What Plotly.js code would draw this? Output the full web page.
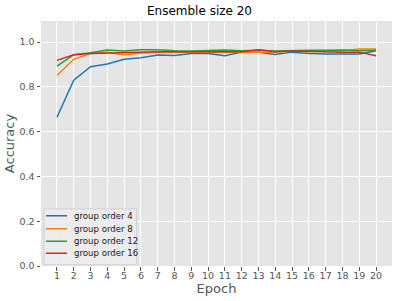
<!DOCTYPE html>
<html><head><meta charset="utf-8">
<script src="https://cdn.plot.ly/plotly-3.0.1.min.js"></script>
<style>html,body{margin:0;padding:0;background:#fff}#chart{width:399px;height:301px}</style>
</head><body><div id="chart"></div>
<script>
const epochs = [1,2,3,4,5,6,7,8,9,10,11,12,13,14,15,16,17,18,19,20];
const seriesNames = ["group order 4","group order 8","group order 12","group order 16"];
const order4  = [0.664,0.830,0.890,0.902,0.923,0.930,0.942,0.940,0.949,0.949,0.939,0.955,0.954,0.945,0.955,0.949,0.947,0.947,0.947,0.961];
const order8  = [0.851,0.923,0.949,0.954,0.942,0.951,0.955,0.955,0.955,0.955,0.955,0.955,0.957,0.955,0.960,0.957,0.960,0.961,0.969,0.969];
const order12 = [0.893,0.943,0.952,0.964,0.960,0.966,0.966,0.961,0.960,0.963,0.964,0.961,0.963,0.960,0.963,0.963,0.963,0.964,0.961,0.963];
const order16 = [0.918,0.943,0.949,0.952,0.955,0.955,0.957,0.957,0.954,0.954,0.955,0.957,0.966,0.957,0.960,0.957,0.955,0.954,0.955,0.939];
const yTicks = [0,0.2,0.4,0.6,0.8,1.0];
const yTickText = ["0.0","0.2","0.4","0.6","0.8","1.0"];
const colors = ["#1f77b4","#ff7f0e","#2ca02c","#d62728"];
const ys = [order4, order8, order12, order16];
const data = ys.map((y,i)=>({x:epochs,y:y,type:"scatter",mode:"lines",name:seriesNames[i],showlegend:false,line:{color:colors[i],width:1.5}}));

// legend drawn in paper coordinates (plot-area fractions)
const legRowY = [0.205,0.152,0.101,0.052];
const shapes = [{type:"rect",xref:"paper",yref:"paper",x0:0.0085,x1:0.272,y0:0.005,y1:0.233,
  fillcolor:"rgba(236,236,236,0.9)",line:{color:"#d0d0d0",width:1},layer:"above"}];
const annotations = [];
seriesNames.forEach((n,i)=>{
  shapes.push({type:"line",xref:"paper",yref:"paper",x0:0.014,x1:0.074,y0:legRowY[i],y1:legRowY[i],line:{color:colors[i],width:1.5},layer:"above"});
  annotations.push({xref:"paper",yref:"paper",x:0.088,y:legRowY[i],xanchor:"left",yanchor:"middle",text:n,showarrow:false,font:{size:8.6,color:"#1a1a1a",family:"DejaVu Sans"}});
});

const layout = {
  width:399,height:301,
  margin:{l:41,r:7,t:21,b:35},
  paper_bgcolor:"#fff",plot_bgcolor:"#E5E5E5",
  font:{family:"DejaVu Sans",color:"#555"},
  title:{text:"Ensemble size 20",font:{size:12,color:"#000"},x:0.5,xanchor:"center",y:0.963,yanchor:"middle"},
  xaxis:{range:[0.05,20.95],tickvals:epochs,ticktext:epochs.map(String),showgrid:true,gridcolor:"#fff",gridwidth:1,zeroline:false,
    ticks:"outside",ticklen:3.5,tickcolor:"#555",tickfont:{size:9.5,color:"#555"},ticklabelstandoff:-3,
    title:{text:"Epoch",font:{size:13,color:"#555"},standoff:0}},
  yaxis:{range:[0,1.094],tickvals:yTicks,ticktext:yTickText,showgrid:true,gridcolor:"#fff",gridwidth:1,zeroline:false,
    ticks:"outside",ticklen:3.5,tickcolor:"#555",tickfont:{size:9.5,color:"#555"},
    title:{text:"Accuracy",font:{size:13,color:"#555"},standoff:1}},
  showlegend:false,
  shapes:shapes,
  annotations:annotations
};
Plotly.newPlot("chart",data,layout,{displayModeBar:false,staticPlot:true});
</script></body></html>
